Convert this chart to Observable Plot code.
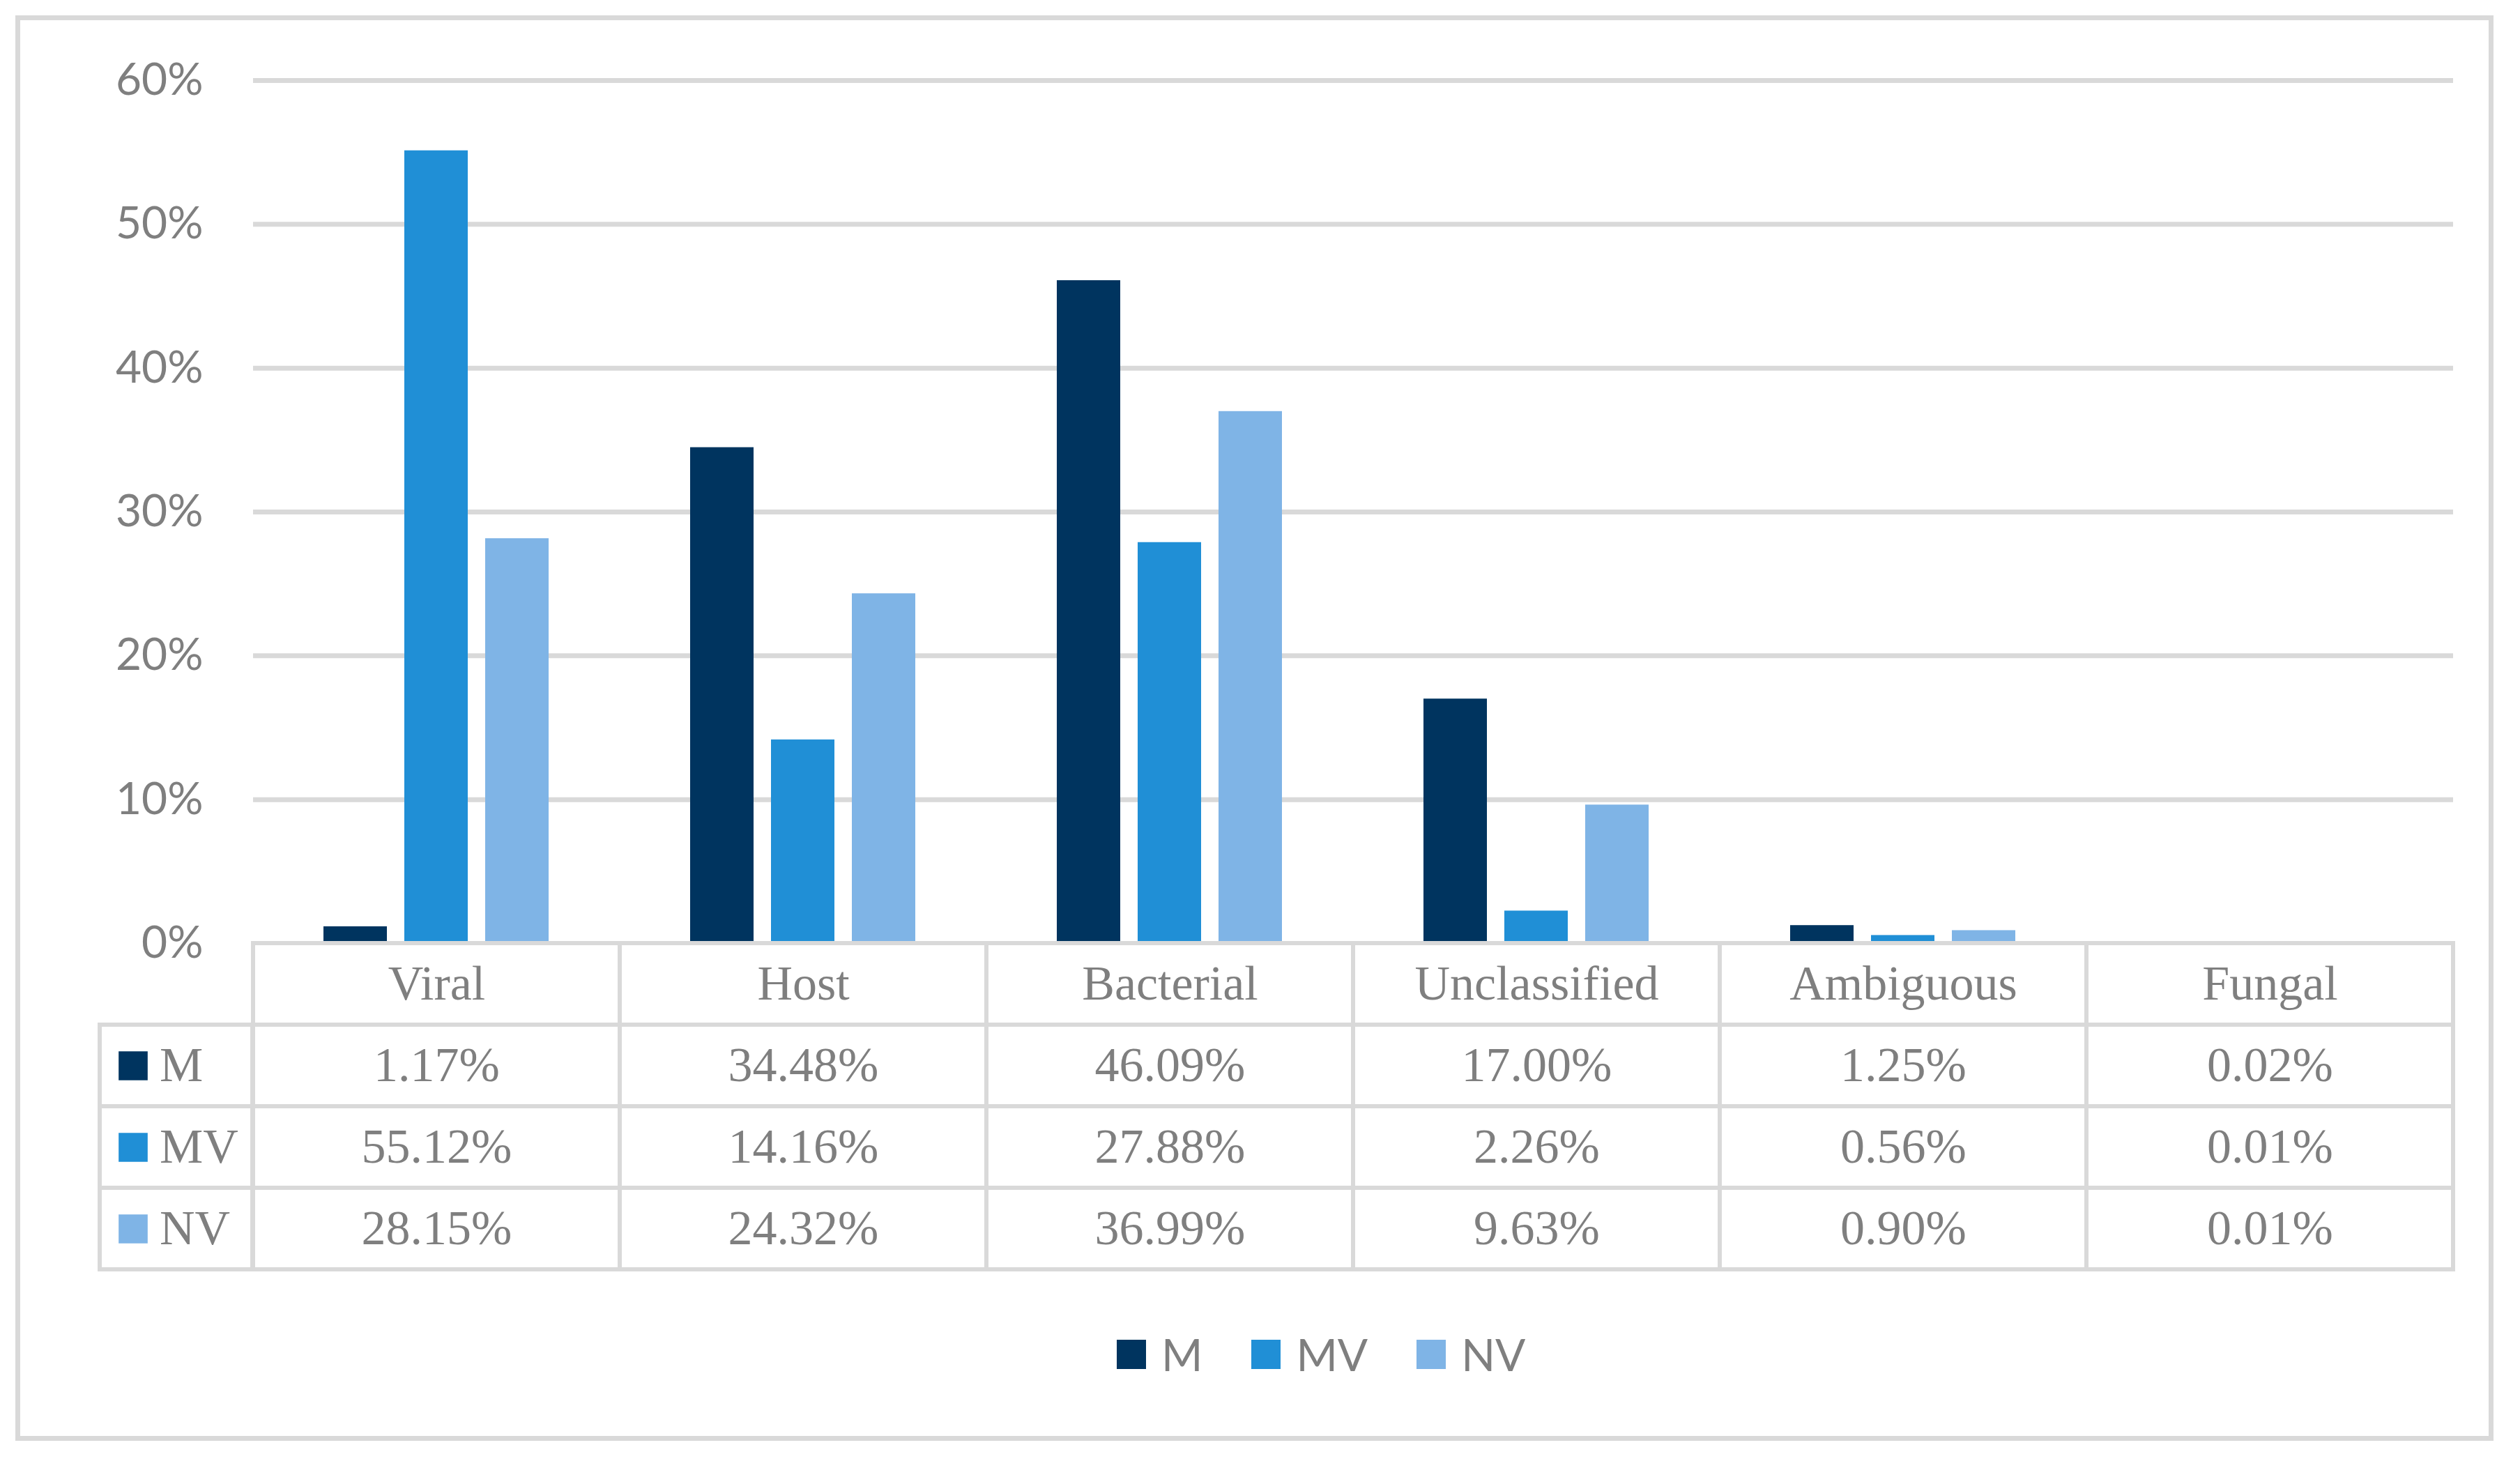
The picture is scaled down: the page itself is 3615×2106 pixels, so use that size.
<!DOCTYPE html>
<html>
<head>
<meta charset="utf-8">
<script src="https://cdn.jsdelivr.net/npm/d3@7"></script>
<script src="https://cdn.jsdelivr.net/npm/@observablehq/plot@0.6"></script>
<style>
  html, body { margin: 0; padding: 0; background: #ffffff; }
  #page { position: relative; width: 3615px; height: 2106px; overflow: hidden; background: #ffffff; }
  .layer { position: absolute; }
  .layer svg { display: block; background: transparent !important; max-width: none !important; }
  #frame { position: absolute; left: 22px; top: 22px; width: 3541px; height: 2031px;
           border: 7px solid #d9d9d9; z-index: 10; pointer-events: none; }
  .leg-swatches { font-family: Lato, sans-serif !important; font-size: 64px !important;
                  color: #7f7f7f !important; line-height: 66px; margin: 0 !important; }
  .leg-swatch { margin-right: 70px !important; }
  .leg-swatch > svg { margin-right: 22px !important; }
</style>
</head>
<body>
<div id="page">
  <div id="chart" class="layer" style="left:0px; top:0px;"></div>
  <div id="table" class="layer" style="left:0px; top:1349px;"></div>
  <div id="keycol" class="layer" style="left:139px; top:1349px;"></div>
  <div id="legend" class="layer" style="left:1602px; top:1910px;"></div>
  <div id="frame"></div>
</div>
<script>
// ---- data ----
const categories = ["Viral", "Host", "Bacterial", "Unclassified", "Ambiguous", "Fungal"];
const series = ["M", "MV", "NV"];
const valuesM  = [1.17, 34.48, 46.09, 17.00, 1.25, 0.02];
const valuesMV = [55.12, 14.16, 27.88, 2.26, 0.56, 0.01];
const valuesNV = [28.15, 24.32, 36.99, 9.63, 0.90, 0.01];
const colors = ["#00345F", "#208FD6", "#7FB4E6"];
const yTicks = [0, 10, 20, 30, 40, 50, 60];

const seriesValues = [valuesM, valuesMV, valuesNV];
const data = series.flatMap((s, i) =>
  categories.map((c, j) => ({category: c, series: s, value: seriesValues[i][j]})));

const gray = "#7f7f7f";
const lineColor = "#d9d9d9";
const serif = "'Liberation Serif', 'Times New Roman', serif";

// ---- bar chart ----
const chart = Plot.plot({
  width: 3615,
  height: 1360,
  marginLeft: 362,
  marginRight: 95,
  marginTop: 115,
  marginBottom: 7,
  facet: {data: data, x: "category"},
  fx: {domain: categories, padding: 0, axis: null, label: null},
  x: {domain: series, paddingInner: 0.2137, paddingOuter: 0.859, axis: null, label: null},
  y: {domain: [0, 60], ticks: 6, tickSize: 0, tickPadding: 72, tickFormat: d => d + "%", label: null},
  color: {domain: series, range: colors},
  style: {fontFamily: "Lato, sans-serif", fontSize: "64px", color: gray, background: "transparent", overflow: "visible"},
  marks: [
    Plot.ruleY(yTicks, {stroke: lineColor, strokeWidth: 7, strokeOpacity: 1}),
    Plot.barY(data, {x: "series", y: "value", fill: "series", inset: 0})
  ]
});
document.getElementById("chart").appendChild(chart);

// ---- data table ----
const rowKeys = ["header", ...series];
const tableCells = [
  ...categories.map(c => ({category: c, row: "header", label: c})),
  ...data.map(d => ({category: d.category, row: d.series, label: d.value.toFixed(2) + "%"}))
];
const table = Plot.plot({
  width: 3615,
  height: 476,
  marginLeft: 362,
  marginRight: 95,
  marginTop: 4,
  marginBottom: 4,
  x: {domain: categories, padding: 0, axis: null},
  y: {domain: rowKeys, padding: 0, axis: null},
  style: {background: "transparent", overflow: "visible"},
  marks: [
    Plot.cell(tableCells, {x: "category", y: "row", fill: "white", stroke: lineColor, strokeWidth: 6, inset: 0}),
    Plot.text(tableCells, {x: "category", y: "row", text: "label", fontFamily: serif, fontSize: 70, fill: gray})
  ]
});
document.getElementById("table").appendChild(table);

// ---- legend key column of the table ----
const keyCells = series.map(s => ({col: "key", row: s, series: s}));
const keyTable = Plot.plot({
  width: 227,
  height: 476,
  marginLeft: 4,
  marginRight: 4,
  marginTop: 4,
  marginBottom: 4,
  x: {domain: ["key"], padding: 0, axis: null},
  y: {domain: rowKeys, padding: 0, axis: null},
  color: {domain: series, range: colors},
  style: {background: "transparent", overflow: "visible"},
  marks: [
    Plot.cell(keyCells, {x: "col", y: "row", fill: "white", stroke: lineColor, strokeWidth: 6, inset: 0}),
    Plot.dot(keyCells, {x: "col", y: "row", symbol: "square", r: 23.5, fill: "series", stroke: null, dx: -62}),
    Plot.text(keyCells, {x: "col", y: "row", text: "series", textAnchor: "start", dx: -24,
                         fontFamily: serif, fontSize: 70, fill: gray})
  ]
});
document.getElementById("keycol").appendChild(keyTable);

// ---- bottom legend ----
const legend = Plot.legend({
  color: {type: "categorical", domain: series, range: colors},
  legend: "swatches",
  swatchSize: 42,
  className: "leg",
  style: {fontFamily: "Lato, sans-serif", fontSize: "64px", color: gray}
});
document.getElementById("legend").appendChild(legend);
</script>
</body>
</html>
